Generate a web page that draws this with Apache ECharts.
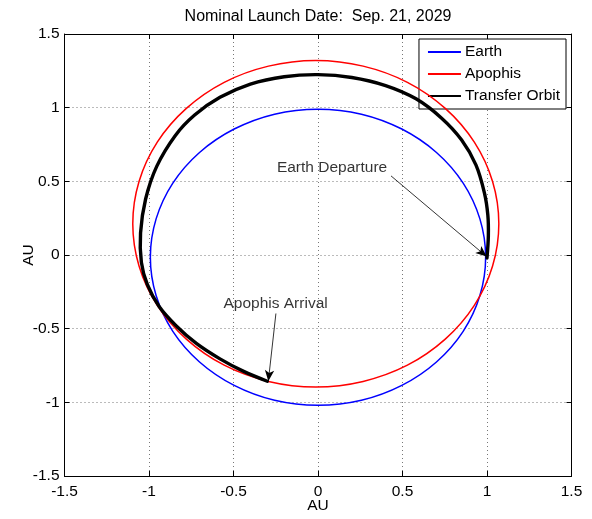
<!DOCTYPE html>
<html>
<head>
<meta charset="utf-8">
<script src="https://cdn.jsdelivr.net/npm/echarts@6/dist/echarts.min.js"></script>
<style>
  html, body { margin: 0; padding: 0; background: #fff; }
  #chart { width: 592px; height: 519px; }
</style>
</head>
<body>
<div id="chart"></div>
<script>
// Heliocentric orbit positions in AU, [x, y]
const earthOrbit = [
  [0.992, -0.015], [0.958, 0.245], [0.859, 0.488], [0.701, 0.696], [0.496, 0.855],
  [0.257, 0.956], [0.000, 0.990], [-0.257, 0.956], [-0.496, 0.855], [-0.701, 0.696],
  [-0.859, 0.488], [-0.958, 0.245], [-0.992, -0.015], [-0.958, -0.275], [-0.859, -0.518],
  [-0.701, -0.726], [-0.496, -0.885], [-0.257, -0.986], [0.000, -1.020], [0.257, -0.986],
  [0.496, -0.885], [0.701, -0.726], [0.859, -0.518], [0.958, -0.275]
];

const apophisOrbit = [
  [1.070, 0.212], [1.033, 0.499], [0.925, 0.766], [0.753, 0.995], [0.529, 1.172],
  [0.267, 1.282], [-0.013, 1.320], [-0.293, 1.282], [-0.555, 1.172], [-0.779, 0.995],
  [-0.951, 0.766], [-1.059, 0.499], [-1.096, 0.212], [-1.059, -0.075], [-0.951, -0.342],
  [-0.779, -0.571], [-0.555, -0.748], [-0.293, -0.858], [-0.013, -0.896], [0.267, -0.858],
  [0.529, -0.748], [0.753, -0.571], [0.925, -0.342], [1.033, -0.075]
];

const transferOrbit = [
  [1.000, -0.020], [1.008, 0.130], [1.005, 0.270], [0.985, 0.420], [0.935, 0.610],
  [0.850, 0.780], [0.730, 0.930], [0.580, 1.060], [0.400, 1.150], [0.200, 1.205],
  [0.000, 1.224], [-0.200, 1.210], [-0.400, 1.160], [-0.580, 1.070], [-0.730, 0.950],
  [-0.845, 0.810], [-0.955, 0.600], [-1.020, 0.380], [-1.050, 0.150], [-1.045, -0.050],
  [-1.010, -0.200], [-0.940, -0.350], [-0.840, -0.480], [-0.720, -0.600], [-0.580, -0.705],
  [-0.440, -0.790], [-0.300, -0.857]
];

// Annotation text anchors and arrow endpoints
const departureLabel = [0.083, 0.595];
const departureArrow = [[0.432, 0.537], [0.998, -0.011]];
const arrivalLabel = [-0.251, -0.333];
const arrivalArrow = [[-0.249, -0.397], [-0.294, -0.857]];

const axisTicks = { min: -1.5, max: 1.5, interval: 0.5 };

const FONT = '"Liberation Sans", Arial, Helvetica, sans-serif';
const FS = 15.5;
const chart = echarts.init(document.getElementById('chart'), null, { renderer: 'canvas' });

const baseAxis = {
  type: 'value',
  min: axisTicks.min, max: axisTicks.max, interval: axisTicks.interval,
  axisLine: { show: true, onZero: false, lineStyle: { color: '#000', width: 1 } },
  axisTick: { show: true, inside: true, length: 5, lineStyle: { color: '#000' } },
  splitLine: { show: true, lineStyle: { color: '#777', type: [1, 3], width: 1 } },
  nameMoveOverlap: false,
  nameTextStyle: { color: '#000', fontFamily: FONT, fontSize: FS }
};

const mirrorAxis = {
  type: 'value',
  min: axisTicks.min, max: axisTicks.max, interval: axisTicks.interval,
  axisLine: { show: true, onZero: false, lineStyle: { color: '#000', width: 1 } },
  axisTick: { show: true, inside: true, length: 5, lineStyle: { color: '#000' } },
  splitLine: { show: false },
  axisLabel: { show: false }
};

// Legend entry carrying the line colour and width of an orbit
function legendEntry(name, color, width) {
  return {
    name: name, type: 'line', data: [], symbol: 'none',
    color: color, lineStyle: { color: color, width: width }
  };
}

// Orbit drawn as one smooth spline through its positions, placed via the axes
function orbitCurve(name, pts, closed, color, width, z) {
  return {
    name: name, type: 'custom', coordinateSystem: 'cartesian2d', z: z,
    data: pts, encode: { x: 0, y: 1 }, silent: true,
    renderItem: function (params, api) {
      if (params.dataIndex !== 0) return null;
      return {
        type: closed ? 'polygon' : 'polyline',
        shape: { points: pts.map(function (p) { return api.coord(p); }), smooth: 0.33 },
        style: { fill: null, stroke: color, lineWidth: width, lineJoin: 'round', lineCap: 'round' }
      };
    }
  };
}

chart.setOption({
  animation: false,
  backgroundColor: '#fff',
  title: {
    text: 'Nominal Launch Date:  Sep. 21, 2029',
    left: 318, top: 9, textAlign: 'center', padding: 0,
    textStyle: { color: '#000', fontFamily: FONT, fontSize: 16, fontWeight: 'normal' }
  },
  grid: { left: 64.5, right: 20.5, top: 34, bottom: 42, containLabel: false },
  legend: {
    orient: 'vertical',
    right: 26, top: 39,
    backgroundColor: '#fff',
    borderColor: '#000', borderWidth: 1, borderRadius: 0,
    padding: [5, 6, 5, 8],
    itemWidth: 33, itemHeight: 14, itemGap: 6,
    itemStyle: { opacity: 0 },
    textStyle: { color: '#000', fontFamily: FONT, fontSize: FS, padding: [0, 0, 0, -1] },
    data: ['Earth', 'Apophis', 'Transfer Orbit']
  },
  xAxis: [
    Object.assign({}, baseAxis, {
      position: 'bottom',
      name: 'AU', nameLocation: 'middle', nameGap: 22,
      axisLabel: { color: '#000', fontFamily: FONT, fontSize: FS, margin: 8 }
    }),
    Object.assign({}, mirrorAxis, { position: 'top' })
  ],
  yAxis: [
    Object.assign({}, baseAxis, {
      position: 'left',
      name: 'AU', nameLocation: 'middle', nameGap: 28,
      axisLabel: { color: '#000', fontFamily: FONT, fontSize: FS, margin: 5 }
    }),
    Object.assign({}, mirrorAxis, { position: 'right' })
  ],
  series: [
    legendEntry('Earth', '#0000ff', 1.5),
    legendEntry('Apophis', '#ff0000', 1.5),
    legendEntry('Transfer Orbit', '#000', 3.4),
    orbitCurve('Earth', earthOrbit, true, '#0000ff', 1.5, 3),
    orbitCurve('Apophis', apophisOrbit, true, '#ff0000', 1.5, 4),
    orbitCurve('Transfer Orbit', transferOrbit, false, '#000', 3.4, 5),
    {
      name: 'notes', type: 'scatter', symbolSize: 0, z: 6,
      data: [
        { name: 'Earth Departure', value: departureLabel },
        { name: 'Apophis Arrival', value: arrivalLabel }
      ],
      label: {
        show: true, position: 'inside', formatter: '{b}',
        color: '#000', fontFamily: FONT, fontSize: FS
      },
      emphasis: { disabled: true },
      markLine: {
        silent: true, animation: false,
        symbol: ['none', 'arrow'], symbolSize: [7, 11],
        lineStyle: { color: '#000', width: 0.8, type: 'solid' },
        label: { show: false },
        data: [
          [{ coord: departureArrow[0] }, { coord: departureArrow[1] }],
          [{ coord: arrivalArrow[0] }, { coord: arrivalArrow[1] }]
        ]
      }
    }
  ]
});
</script>
</body>
</html>
